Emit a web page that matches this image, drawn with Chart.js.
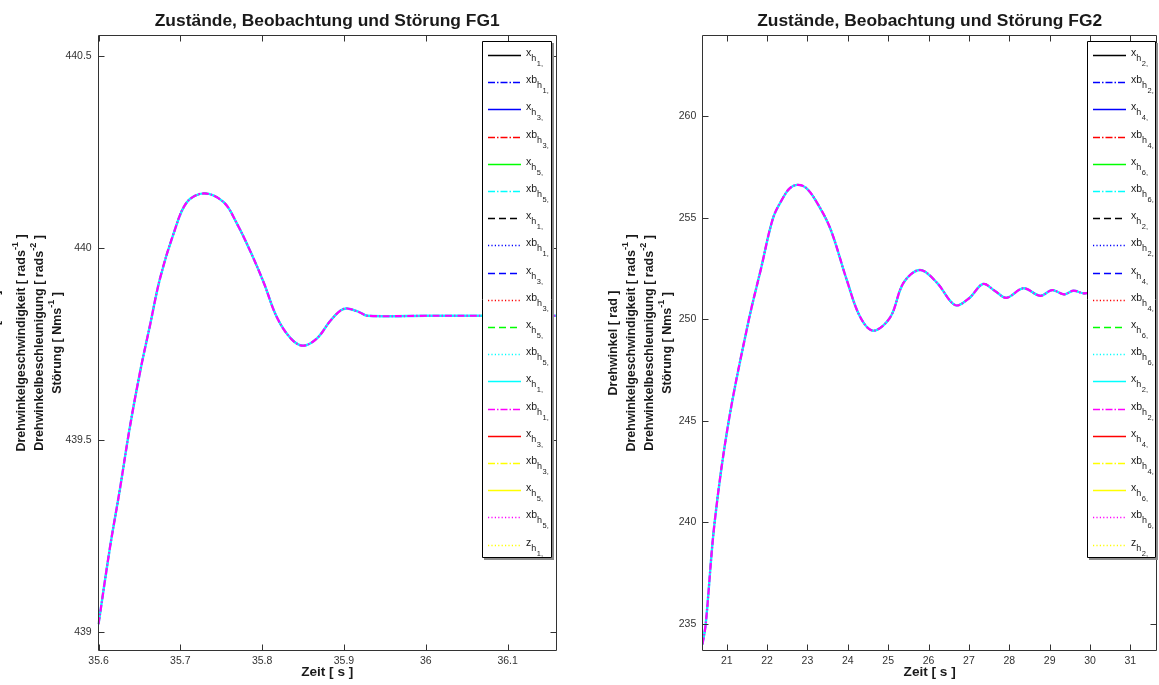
<!DOCTYPE html>
<html><head><meta charset="utf-8">
<script src="https://cdn.jsdelivr.net/npm/chart.js@4.4.1/dist/chart.umd.min.js"></script>
<style>
html,body{margin:0;padding:0;background:#fff;width:1159px;height:685px;overflow:hidden;}
#w1{position:absolute;left:0;top:0;width:580px;height:685px;}
#w2{position:absolute;left:580px;top:0;width:579px;height:685px;}
</style></head><body>
<div id="w1"><canvas id="c1"></canvas></div>
<div id="w2"><canvas id="c2"></canvas></div>
<script>
// ---------- data ----------
const fg1Time = [35.600, 35.614, 35.626, 35.638, 35.651, 35.663, 35.675, 35.692, 35.708, 35.729, 35.753, 35.769, 35.786, 35.802, 35.818, 35.835, 35.850, 35.867, 35.883, 35.896, 35.904, 35.918, 35.929, 36.000, 36.100, 36.160];
const fg1Value = [439.02, 439.22, 439.37, 439.53, 439.68, 439.80, 439.92, 440.04, 440.12, 440.143, 440.12, 440.065, 439.99, 439.91, 439.82, 439.765, 439.746, 439.765, 439.81, 439.838, 439.843, 439.834, 439.824, 439.824, 439.824, 439.824];

const fg2Time = [20.40, 20.48, 20.70, 21.05, 21.55, 21.85, 22.15, 22.40, 22.56, 22.74, 22.95, 23.19, 23.56, 23.98, 24.31, 24.63, 25.05, 25.38, 25.79, 26.21, 26.66, 27.01, 27.35, 27.65, 27.93, 28.35, 28.77, 29.06, 29.36, 29.59, 29.85, 30.20, 30.60, 31.00, 31.70];
const fg2Value = [234.0, 235.0, 240.0, 245.0, 250.0, 252.5, 255.0, 256.0, 256.45, 256.62, 256.5, 255.9, 254.5, 251.9, 250.1, 249.44, 250.1, 251.8, 252.43, 251.8, 250.7, 251.05, 251.74, 251.39, 251.06, 251.53, 251.16, 251.44, 251.23, 251.41, 251.28, 251.36, 251.31, 251.34, 251.33];

const fg1XTicks = [35.6, 35.7, 35.8, 35.9, 36, 36.1];
const fg1YTicks = [439, 439.5, 440, 440.5];
const fg2XTicks = [21, 22, 23, 24, 25, 26, 27, 28, 29, 30, 31];
const fg2YTicks = [235, 240, 245, 250, 255, 260];

const fg1Names = ['x','xb','x','xb','x','xb','x','xb','x','xb','x','xb','x','xb','x','xb','x','xb','z'];
const fg1Subs  = ['1','1','3','3','5','5','1','1','3','3','5','5','1','1','3','3','5','5','1'];
const fg2Subs  = ['2','2','4','4','6','6','2','2','4','4','6','6','2','2','4','4','6','6','2'];

// ---------- styles ----------
const seriesColor = ['#000000','#0000ff','#0000ff','#ff0000','#00ff00','#00ffff','#000000','#0000ff','#0000ff','#ff0000','#00ff00','#00ffff','#00ffff','#ff00ff','#ff0000','#ffff00','#ffff00','#ff00ff','#ffff00'];
const DASHDOT=[7,2,1.5,2], DASH=[7,4], DOT=[1.2,2.2], SOLID=[];
const seriesDash = [SOLID,DASHDOT,SOLID,DASHDOT,SOLID,DASHDOT,DASH,DOT,DASH,DOT,DASH,DOT,SOLID,DASHDOT,SOLID,DASHDOT,SOLID,DOT,DOT];
// which series carry the plotted curve (the others lie outside the shown range)
const visibleSeries = [6, 12, 13];

function pts(t, v){ return t.map((x,i)=>({x:x, y:v[i]})); }

function makeDatasets(t, v){
  return seriesColor.map((c,i)=>({
    data: visibleSeries.includes(i) ? pts(t,v) : [],
    borderColor: c, backgroundColor: c,
    borderDash: seriesDash[i],
    borderWidth: i===13 ? 2.2 : (i===12 ? 2.4 : 1.6),
    pointRadius: 0, fill:false,
    tension: 0.35,
    order: i===13 ? 0 : (i===12 ? 1 : 2)
  }));
}

const TXT = '#1a1a1a';
function drawRotLabel(ctx, cx, cy, segs, size){
  ctx.save();
  ctx.translate(cx, cy); ctx.rotate(-Math.PI/2);
  const big = 'bold '+size+'px "Liberation Sans", Arial, sans-serif';
  const small = 'bold '+(size*0.72)+'px "Liberation Sans", Arial, sans-serif';
  let w = 0;
  segs.forEach(s=>{ ctx.font = s.sup?small:big; w += ctx.measureText(s.t).width; });
  let x = -w/2;
  ctx.fillStyle = TXT; ctx.textBaseline='alphabetic'; ctx.textAlign='left';
  segs.forEach(s=>{ ctx.font = s.sup?small:big; ctx.fillText(s.t, x, s.sup? -2 : 4.5); x += ctx.measureText(s.t).width; });
  ctx.restore();
}

const yLabelLines = [
  [{t:'Drehwinkel [ rad ]'}],
  [{t:'Drehwinkelgeschwindigkeit [ rads'},{t:'-1',sup:true},{t:' ]'}],
  [{t:'Drehwinkelbeschleunigung [ rads'},{t:'-2',sup:true},{t:' ]'}],
  [{t:'Störung [ Nms'},{t:'-1',sup:true},{t:' ]'}]
];

const matlabPlugin = {
  id: 'matlab',
  afterDatasetsDraw(chart, args, o){
    const ctx = chart.ctx, a = chart.chartArea;
    const xs = chart.scales.x, ys = chart.scales.y;
    ctx.save();
    // box + inward ticks
    ctx.strokeStyle = '#333'; ctx.lineWidth = 1;
    ctx.beginPath();
    const L=Math.round(a.left)+0.5, R=Math.round(a.right)-0.5, T=Math.round(a.top)+0.5, B=Math.round(a.bottom)-0.5;
    ctx.rect(L, T, R-L, B-T);
    xs.ticks.forEach(tk=>{ const px=Math.round(xs.getPixelForValue(tk.value))+0.5; ctx.moveTo(px,B); ctx.lineTo(px,B-6); ctx.moveTo(px,T); ctx.lineTo(px,T+6); });
    ys.ticks.forEach(tk=>{ const py=Math.round(ys.getPixelForValue(tk.value))+0.5; ctx.moveTo(L,py); ctx.lineTo(L+6,py); ctx.moveTo(R,py); ctx.lineTo(R-6,py); });
    ctx.stroke();
    // legend
    const lg = o.legend; const ds = chart.data.datasets;
    const rowH = 27.2;
    const h = lg.h;
    ctx.fillStyle = '#fff';
    ctx.fillRect(lg.x, lg.y, lg.w, h);
    ctx.strokeStyle = '#000'; ctx.lineWidth = 1;
    ctx.beginPath(); ctx.rect(lg.x+0.5, lg.y+0.5, lg.w-1, h-1); ctx.stroke();
    ctx.strokeStyle = '#8c8c8c'; ctx.lineWidth = 2;
    ctx.beginPath(); ctx.moveTo(lg.x+lg.w+1, lg.y+2); ctx.lineTo(lg.x+lg.w+1, lg.y+h+1); ctx.lineTo(lg.x+2, lg.y+h+1); ctx.stroke();
    ds.forEach((d,i)=>{
      const cy = Math.round(lg.y + 14 + i*rowH)+0.5;
      ctx.strokeStyle = d.borderColor; ctx.lineWidth = 1.3; ctx.setLineDash(d.borderDash);
      ctx.beginPath(); ctx.moveTo(lg.x+6, cy); ctx.lineTo(lg.x+39, cy); ctx.stroke();
      ctx.setLineDash([]);
      ctx.fillStyle = TXT; ctx.textAlign='left'; ctx.textBaseline='alphabetic';
      let tx = lg.x + 44;
      ctx.font = '10.5px "Liberation Sans", Arial, sans-serif';
      ctx.fillText(o.names[i], tx, cy); tx += ctx.measureText(o.names[i]).width;
      ctx.font = '9px "Liberation Sans", Arial, sans-serif';
      ctx.fillText('h', tx, cy+5.5); tx += ctx.measureText('h').width + 0.5;
      ctx.font = '7.5px "Liberation Sans", Arial, sans-serif';
      ctx.fillText(o.subs[i]+',', tx, cy+10.5);
    });
    ctx.restore();
  },
  afterDraw(chart, args, o){
    const ctx = chart.ctx, a = chart.chartArea;
    ctx.save();
    ctx.fillStyle = TXT; ctx.textAlign='center'; ctx.textBaseline='alphabetic';
    ctx.font = 'bold 17.4px "Liberation Sans", Arial, sans-serif';
    ctx.fillText(o.title, (a.left+a.right)/2, 26);
    ctx.font = 'bold 13.6px "Liberation Sans", Arial, sans-serif';
    ctx.fillText('Zeit [ s ]', (a.left+a.right)/2, 676);
    o.ylabX.forEach((x,i)=> drawRotLabel(ctx, x, o.ylabY, yLabelLines[i], 12.5));
    ctx.restore();
  }
};

function makeChart(id, t, v, xr, yr, xt, yt, yw, padR, plug){
  return new Chart(document.getElementById(id), {
    type: 'line',
    data: { datasets: makeDatasets(t, v) },
    options: {
      responsive: true, maintainAspectRatio: false, animation: false, devicePixelRatio: 1,
      layout: { padding: { top: 35, left: 0, right: padR, bottom: 0 } },
      plugins: { legend: {display:false}, tooltip: {enabled:false}, title:{display:false}, matlab: plug },
      scales: {
        x: { type:'linear', min: xr[0], max: xr[1],
             grid: {display:false, drawTicks:false}, border:{display:false},
             afterBuildTicks: s => { s.ticks = xt.map(x=>({value:x})); },
             afterFit: s => { s.height = 34; },
             ticks: { autoSkip:false, maxRotation:0, padding:4, color:'#333',
                      font:{family:'"Liberation Sans", Arial, sans-serif', size:10.5},
                      callback: val => String(val) } },
        y: { type:'linear', min: yr[0], max: yr[1],
             grid: {display:false, drawTicks:false}, border:{display:false},
             afterBuildTicks: s => { s.ticks = yt.map(y=>({value:y})); },
             afterFit: s => { s.width = yw; },
             ticks: { padding:6, color:'#333',
                      font:{family:'"Liberation Sans", Arial, sans-serif', size:10.5},
                      callback: val => String(val) } }
      }
    },
    plugins: [matlabPlugin]
  });
}

makeChart('c1', fg1Time, fg1Value, [35.599, 36.160], [438.95, 440.556], fg1XTicks, fg1YTicks, 97.7, 23.3,
  { title:'Zustände, Beobachtung und Störung FG1', ylabX:[-6,20,38,56], ylabY:343,
    legend:{x:482, y:41, w:70, h:517}, names: fg1Names, subs: fg1Subs });
makeChart('c2', fg2Time, fg2Value, [20.395, 31.66], [233.67, 264.0], fg2XTicks, fg2YTicks, 122.3, 2,
  { title:'Zustände, Beobachtung und Störung FG2', ylabX:[32,50,68,86], ylabY:343,
    legend:{x:507, y:41, w:69, h:517}, names: fg1Names, subs: fg2Subs });
</script>
</body></html>
